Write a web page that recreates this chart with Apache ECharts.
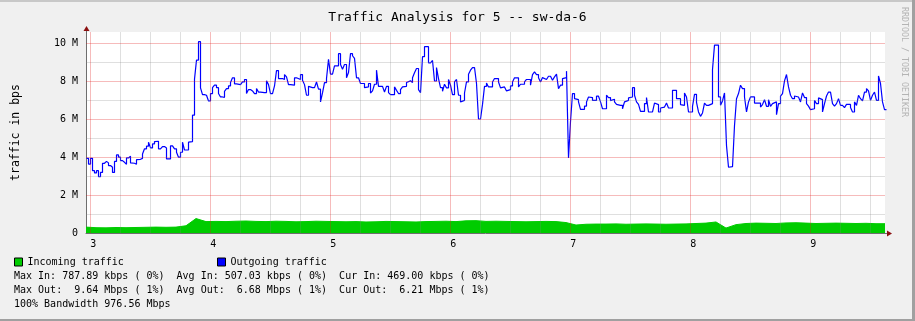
<!DOCTYPE html>
<html><head><meta charset="utf-8">
<script src="https://cdn.jsdelivr.net/npm/echarts@6/dist/echarts.min.js"></script>
<style>html,body{margin:0;padding:0;background:#f0f0f0}#c{width:915px;height:321px}</style>
</head><body><div id="c"></div>
<script>
// ---- axis extents (x in hours, y in Mbit/s) ----
const X_MIN = 2.9642, X_MAX = 9.6225;
const Y_MAX = 10.58;
const OUT_START = 2.9684, OUT_STEP = 1 / 60;   // one sample per minute
const IN_START = 2.9642, IN_STEP = 1 / 12;

const xMajorTicks = [3, 4, 5, 6, 7, 8, 9];
const xMinorTicks = [3.25, 3.5, 3.75, 4.25, 4.5, 4.75, 5.25, 5.5, 5.75, 6.25, 6.5, 6.75, 7.25, 7.5, 7.75, 8.25, 8.5, 8.75, 9.25, 9.5];
const yMajorTicks = [2, 4, 6, 8, 10];
const yMinorTicks = [1, 3, 5, 7, 9];

const titleText = 'Traffic Analysis for 5 -- sw-da-6';
const seriesNames = ['Incoming traffic', 'Outgoing traffic'];
const statsLines = [
  'Max In: 787.89 kbps ( 0%)  Avg In: 507.03 kbps ( 0%)  Cur In: 469.00 kbps ( 0%)',
  'Max Out:  9.64 Mbps ( 1%)  Avg Out:  6.68 Mbps ( 1%)  Cur Out:  6.21 Mbps ( 1%)',
  '100% Bandwidth 976.56 Mbps'
];

// Outgoing traffic, Mbit/s
const outgoingMbps = [
  3.93, 3.63, 3.93, 3.28, 3.16, 3.28, 2.96, 3.19, 3.67, 3.77, 3.69, 3.55, 3.46, 3.19, 3.77, 4.11, 3.99, 3.81, 3.72, 3.62,
  3.95, 4.04, 3.69, 3.67, 3.62, 3.86, 3.88, 3.93, 4.16, 4.43, 4.57, 4.78, 4.48, 4.69, 4.81, 4.83, 4.43, 4.39, 4.55, 4.48,
  3.90, 3.90, 4.59, 4.55, 4.43, 4.25, 3.99, 4.25, 4.78, 4.37, 4.37, 4.78, 4.81, 6.2, 8.1, 9.1, 10.07,
  7.64, 7.28, 7.25, 7.28, 6.95, 7.34, 7.65, 7.78, 7.65, 7.34, 7.16, 7.14, 7.46, 7.60, 7.74, 7.92, 8.17, 7.85, 7.87, 7.81,
  7.74, 7.95, 8.08, 7.34, 7.55, 7.48, 7.46, 7.34, 7.60, 7.42, 7.34, 7.39, 7.39, 8.01, 7.81, 7.34, 7.30, 7.74, 8.55, 8.13,
  8.13, 8.08, 8.34, 8.22, 7.81, 7.74, 7.78, 8.17, 8.18, 8.08, 8.34, 8.04, 7.81, 7.25, 7.72, 7.65, 7.65,
  7.65, 7.95, 7.57, 6.90, 7.37, 7.92, 8.13, 9.14, 8.36, 8.43, 8.80, 8.80, 9.44, 8.87, 8.62, 8.87, 8.17, 8.45, 9.44, 9.33,
  9.19, 8.17, 8.13, 7.87, 7.87, 7.65, 7.69, 7.87, 7.37, 7.48, 7.83, 8.57, 7.72, 7.72, 7.78, 7.42, 7.72, 7.39, 7.28, 7.28,
  7.69, 7.51, 7.34, 7.55, 7.69, 7.72, 7.92, 8.01, 7.92, 8.17, 8.43, 8.66, 7.55, 7.39, 9.28, 9.81, 9.81,
  8.96, 8.96, 9.08, 8.0, 8.71, 8.13, 7.65, 7.46, 7.83, 7.64, 8.08, 7.78, 7.28, 7.95, 8.08, 7.25, 6.90, 6.98, 7.37, 7.95,
  8.36, 8.57, 8.71, 8.71, 7.87, 6.0, 6.0, 6.77, 7.72, 7.90, 7.69, 7.69, 7.95, 8.13, 8.13, 7.95, 7.64, 7.69, 7.60, 7.48,
  7.55, 7.74, 7.95, 8.17, 8.17, 7.69, 7.83, 7.83, 7.95, 8.08, 8.08, 7.78, 8.34, 8.48, 8.34, 8.17, 7.95,
  8.18, 8.08, 8.18, 8.25, 8.25, 8.04, 8.22, 8.36, 7.60, 7.78, 8.13, 8.18, 8.52, 3.95, 5.87, 7.34, 7.07, 7.02, 6.90, 6.51,
  6.51, 6.68, 6.90, 7.16, 7.13, 6.98, 6.98, 7.20, 7.11, 6.90, 6.54, 6.54, 7.25, 7.13, 6.97, 7.04, 6.90, 6.77, 6.72, 6.72,
  6.54, 6.90, 6.98, 7.11, 7.16, 7.65, 7.25, 6.90, 6.77, 6.40, 6.40, 6.81, 7.13, 6.37, 6.37, 6.37, 6.84,
  6.76, 6.37, 6.58, 6.63, 6.63, 6.84, 6.58, 6.58, 7.51, 7.51, 7.07, 7.07, 6.76, 6.72, 7.37, 7.16, 6.37, 6.37, 6.67, 7.30,
  6.88, 6.37, 6.14, 6.32, 6.84, 6.72, 6.63, 6.81, 8.61, 9.89, 9.89, 7.16, 6.72, 6.95, 7.37, 4.60, 3.46, 3.49, 3.46, 5.66,
  7.07, 7.34, 7.78, 7.60, 7.16, 6.37, 6.90, 7.16, 7.16, 6.84, 6.81, 6.84, 6.63, 6.76, 7.02, 6.67, 7.02,
  6.67, 6.81, 6.90, 6.23, 6.81, 7.20, 7.34, 8.01, 8.34, 7.69, 7.25, 7.07, 7.21, 7.16, 7.07, 6.90, 7.37, 7.13, 6.81, 6.68,
  6.49, 6.54, 6.98, 6.81, 7.11, 7.02, 6.37, 6.81, 7.21, 7.42, 7.39, 6.81, 6.68, 6.81, 7.07, 6.72, 6.68, 6.60, 6.77, 6.77,
  6.60, 6.37, 6.90, 6.72, 7.25, 7.07, 6.95, 7.42, 7.60, 7.48, 6.98, 7.25, 7.42, 6.98, 8.27, 7.87, 6.90, 6.49
];

// Incoming traffic, Mbit/s
const incomingMbps = [
  0.31, 0.28, 0.27, 0.29, 0.28, 0.29, 0.30, 0.31, 0.30, 0.31, 0.38, 0.76,
  0.60, 0.61, 0.60, 0.62, 0.63, 0.61, 0.60, 0.62, 0.61, 0.59, 0.60, 0.62, 0.61, 0.60, 0.59, 0.60, 0.58, 0.59,
  0.61, 0.60, 0.59, 0.58, 0.60, 0.61, 0.62, 0.60, 0.64, 0.65, 0.61, 0.62, 0.61, 0.60, 0.59, 0.60, 0.61, 0.60,
  0.55, 0.42, 0.46, 0.47, 0.47, 0.48, 0.46, 0.47, 0.48, 0.47, 0.46, 0.47, 0.48, 0.50, 0.52, 0.58, 0.26, 0.44,
  0.50, 0.52, 0.51, 0.50, 0.53, 0.54, 0.52, 0.50, 0.51, 0.52, 0.51, 0.50, 0.51, 0.49
];

const MONO = '"DejaVu Sans Mono", monospace';
const outData = outgoingMbps.map((v, i) => [OUT_START + i * OUT_STEP, v]);
outData.push([OUT_START + outgoingMbps.length * OUT_STEP, outgoingMbps[outgoingMbps.length - 1]]);
const inData = incomingMbps.map((v, i) => [IN_START + i * IN_STEP, v]);
inData.push([X_MAX, incomingMbps[incomingMbps.length - 1]]);

const MAJOR = 'rgba(225,30,30,0.30)';
const MINOR = 'rgba(130,130,130,0.26)';
const gridLines = []
  .concat(xMinorTicks.map(v => ({ xAxis: v, lineStyle: { color: MINOR } })))
  .concat(yMinorTicks.map(v => ({ yAxis: v, lineStyle: { color: MINOR } })))
  .concat(xMajorTicks.map(v => ({ xAxis: v, lineStyle: { color: MAJOR } })))
  .concat(yMajorTicks.map(v => ({ yAxis: v, lineStyle: { color: MAJOR } })));

const chart = echarts.init(document.getElementById('c'), null, { renderer: 'canvas' });
const legendBase = {
  icon: 'rect', itemWidth: 8, itemHeight: 8, top: 257, padding: 0, selectedMode: false,
  itemStyle: { borderColor: '#000', borderWidth: 1 },
  textStyle: { fontFamily: MONO, fontSize: 10, color: '#000' }
};
chart.setOption({
  animation: false,
  backgroundColor: '#f0f0f0',
  textStyle: { fontFamily: MONO },
  title: { text: titleText, left: 'center', top: 6,
    textStyle: { fontFamily: MONO, fontSize: 13, fontWeight: 'normal', color: '#000' } },
  legend: [
    Object.assign({}, legendBase, { data: [seriesNames[0]], left: 14 }),
    Object.assign({}, legendBase, { data: [seriesNames[1]], left: 217 })
  ],
  grid: { left: 86, top: 32, width: 799, height: 201, show: true, backgroundColor: '#ffffff', borderWidth: 0 },
  xAxis: {
    type: 'value', min: X_MIN, max: X_MAX, splitNumber: 7,
    axisLine: { show: true, lineStyle: { color: '#6e6e6e', width: 1 } },
    axisTick: { show: false },
    splitLine: { show: false },
    axisLabel: { fontFamily: MONO, fontSize: 10, color: '#000', margin: 6, padding: [0, 0, 0, 6],
      formatter: v => (Math.abs(v - Math.round(v)) < 1e-6 ? String(Math.round(v)) : '') }
  },
  yAxis: {
    type: 'value', min: 0, max: Y_MAX, interval: 1,
    name: 'traffic in bps', nameLocation: 'middle', nameGap: 64, nameRotate: 90,
    nameTextStyle: { fontFamily: MONO, fontSize: 11.5, color: '#000' },
    axisLine: { show: true, lineStyle: { color: '#6e6e6e', width: 1 } },
    axisTick: { show: false },
    splitLine: { show: false },
    axisLabel: { fontFamily: MONO, fontSize: 10, color: '#000', margin: 8,
      formatter: v => {
        const r = Math.round(v);
        if (Math.abs(v - r) > 1e-6 || r % 2 !== 0) return '';
        return r === 0 ? '0' : r + ' M';
      } }
  },
  series: [
    { name: seriesNames[0], type: 'line', data: inData, showSymbol: false, z: 1,
      itemStyle: { color: '#00cc00' }, lineStyle: { color: '#00cc00', width: 1 },
      areaStyle: { color: '#00cc00', opacity: 1 } },
    { name: 'grid', type: 'line', data: [], z: 2, silent: true,
      markLine: { silent: true, symbol: 'none', label: { show: false }, animation: false,
        emphasis: { disabled: true }, lineStyle: { type: 'solid', width: 1 }, data: gridLines } },
    { name: seriesNames[1], type: 'line', step: 'end', data: outData, showSymbol: false, z: 3,
      itemStyle: { color: '#0000ff' }, lineStyle: { color: '#0000ff', width: 1.2 } }
  ]
});

// decorations: frame, axis arrows, statistics text, watermark
const tl = chart.convertToPixel({ gridIndex: 0 }, [X_MIN, Y_MAX]);
const br = chart.convertToPixel({ gridIndex: 0 }, [X_MAX, 0]);
const ax = Math.round(tl[0]), ay = Math.round(br[1]);
const topY = Math.round(tl[1]), rightX = Math.round(br[0]);
const graphics = [
  { type: 'rect', shape: { x: 0, y: 0, width: 915, height: 2 }, style: { fill: '#c8c8c8' }, silent: true },
  { type: 'rect', shape: { x: 0, y: 319, width: 915, height: 2 }, style: { fill: '#a0a0a0' }, silent: true },
  { type: 'rect', shape: { x: 912, y: 0, width: 3, height: 321 }, style: { fill: '#a0a0a0' }, silent: true },
  { type: 'line', shape: { x1: ax + 0.5, y1: topY, x2: ax + 0.5, y2: topY - 3 }, style: { stroke: '#6e6e6e', lineWidth: 1 }, z: 10 },
  { type: 'polygon', shape: { points: [[ax + 0.5, topY - 6], [ax - 2.5, topY - 1], [ax + 3.5, topY - 1]] }, style: { fill: '#8b1010' }, z: 10 },
  { type: 'line', shape: { x1: rightX, y1: ay + 0.5, x2: rightX + 2, y2: ay + 0.5 }, style: { stroke: '#6e6e6e', lineWidth: 1 }, z: 10 },
  { type: 'polygon', shape: { points: [[rightX + 7, ay + 0.5], [rightX + 2, ay - 2.5], [rightX + 2, ay + 3.5]] }, style: { fill: '#8b1010' }, z: 10 },
  { type: 'text', x: 904, y: 7, rotation: -Math.PI / 2,
    style: { text: 'RRDTOOL / TOBI OETIKER', font: '8.3px ' + MONO, fill: '#b4b4b4', align: 'left', verticalAlign: 'middle' } }
];
statsLines.forEach((t, k) => {
  graphics.push({ type: 'text', x: 14, y: 276 + k * 14,
    style: { text: t, font: '10px ' + MONO, fill: '#000', align: 'left', verticalAlign: 'middle' } });
});
chart.setOption({ graphic: graphics });
</script></body></html>
